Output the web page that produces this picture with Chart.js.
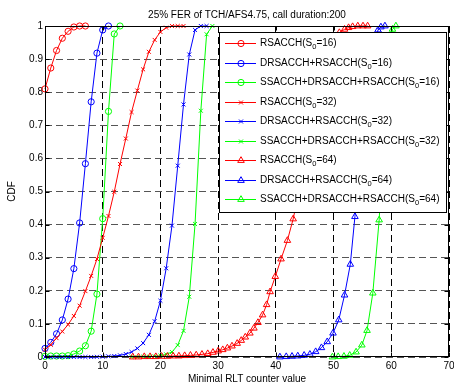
<!DOCTYPE html>
<html><head><meta charset="utf-8">
<script src="https://cdn.jsdelivr.net/npm/chart.js@4"></script>
<style>html,body{margin:0;padding:0;background:#fff;overflow:hidden}</style>
</head><body>
<canvas id="c" width="454" height="386"></canvas>
<script>
const titleText = '25% FER of TCH/AFS4.75, call duration:200';
const xAxisTitle = 'Minimal RLT counter value';
const yAxisTitle = 'CDF';
const xTickLabels = ['0','10','20','30','40','50','60','70'];
const yTickLabels = ['0','0.1','0.2','0.3','0.4','0.5','0.6','0.7','0.8','0.9','1'];
const seriesNames = [
  'RSACCH(S\u2080=16)',
  'DRSACCH+RSACCH(S\u2080=16)',
  'SSACCH+DRSACCH+RSACCH(S\u2080=16)',
  'RSACCH(S\u2080=32)',
  'DRSACCH+RSACCH(S\u2080=32)',
  'SSACCH+DRSACCH+RSACCH(S\u2080=32)',
  'RSACCH(S\u2080=64)',
  'DRSACCH+RSACCH(S\u2080=64)',
  'SSACCH+DRSACCH+RSACCH(S\u2080=64)'
];
const seriesColors = ['#ff0000','#0000ff','#00ff00','#ff0000','#0000ff','#00ff00','#ff0000','#0000ff','#00ff00'];
const seriesMarkers = ['circle','circle','circle','crossRot','crossRot','crossRot','triangle','triangle','triangle'];

// S0 = 16
const x_rs16 = [0,1,2,3,4,5,6,7];
const y_rs16 = [0.81,0.873,0.926,0.963,0.984,0.997,1.0,1.0];
const x_dr16 = [0,1,2,3,4,5,6,7,8,9,10,11];
const y_dr16 = [0.026,0.044,0.07,0.112,0.175,0.267,0.405,0.584,0.771,0.918,0.988,1.0];
const x_ss16 = [0,1,2,3,4,5,6,7,8,9,10,11,12,13];
const y_ss16 = [0.002,0.003,0.003,0.003,0.004,0.009,0.018,0.034,0.078,0.19,0.418,0.742,0.976,1.0];
// S0 = 32
const x_rs32 = [0,1,2,3,4,5,6,7,8,9,10,11,12,13,14,15,16,17,18,19,20,21,22,23,24];
const y_rs32 = [0.022,0.037,0.057,0.077,0.098,0.124,0.155,0.199,0.245,0.296,0.36,0.426,0.499,0.583,0.66,0.74,0.805,0.869,0.922,0.958,0.982,0.995,1.0,1.0,1.0];
const x_dr32 = [0,1,2,3,4,5,6,7,8,9,10,11,12,13,14,15,16,17,18,19,20,21,22,23,24,25,26,27,28];
const y_dr32 = [0,0,0,0,0,0,0,0,0,0.0005,0.001,0.002,0.003,0.005,0.009,0.015,0.026,0.042,0.067,0.108,0.17,0.268,0.397,0.578,0.763,0.914,0.988,1.0,1.0];
const x_ss32 = [15,16,17,18,19,20,21,22,23,24,25,26,27,28,29];
const y_ss32 = [0,0,0.001,0.001,0.002,0.004,0.008,0.015,0.036,0.079,0.182,0.402,0.744,0.975,1.0];
// S0 = 64
const x_rs64 = [15.2,16.2,17.2,18.2,19.2,20.2,21.2,22.2,23.2,24.2,25.2,26.2,27.2,28.2,29.1,30,30.8,31.6,32.4,33.3,34,34.7,35.5,36.2,36.9,37.7,38.4,39,39.9,40.9,42,43,44,45,46,47,48,49,50,51,51.9,52.6,53.3,54.2,55.1,55.9];
const y_rs64 = [0,0,0.001,0.001,0.001,0.002,0.002,0.003,0.003,0.004,0.005,0.006,0.008,0.01,0.014,0.018,0.022,0.027,0.033,0.041,0.05,0.06,0.072,0.087,0.104,0.127,0.158,0.197,0.243,0.296,0.352,0.417,0.5,0.6,0.7,0.78,0.86,0.92,0.96,0.98,0.99,0.995,0.998,1.0,1.0,1.0];
const x_dr64 = [40.7,41.8,42.8,43.8,44.9,45.9,46.9,47.9,48.9,49.9,50.9,51.9,52.9,53.7,54.5,55.4,56.3,57.2,57.7,58.2,58.9];
const y_dr64 = [0,0.001,0.002,0.003,0.005,0.008,0.016,0.028,0.046,0.072,0.112,0.187,0.28,0.424,0.6,0.76,0.88,0.95,0.988,0.997,1.0];
const x_ss64 = [49.8,50.8,51.8,52.8,53.9,54.9,55.8,56.8,57.9,58.6,59.3,59.8,60.2,60.8];
const y_ss64 = [0,0.001,0.002,0.005,0.015,0.036,0.08,0.193,0.414,0.65,0.85,0.95,0.99,1.0];

const seriesX = [x_rs16,x_dr16,x_ss16,x_rs32,x_dr32,x_ss32,x_rs64,x_dr64,x_ss64];
const seriesY = [y_rs16,y_dr16,y_ss16,y_rs32,y_dr32,y_ss32,y_rs64,y_dr64,y_ss64];

const FONT = "'Liberation Sans', Arial, Helvetica, sans-serif";
const markerRadius = {circle: 3.1, crossRot: 2.8, triangle: 3.8};

const datasets = seriesNames.map((name, i) => ({
  label: name,
  data: seriesX[i].map((xv, k) => ({x: xv, y: seriesY[i][k]})),
  borderColor: seriesColors[i],
  backgroundColor: 'rgba(0,0,0,0)',
  pointBorderColor: seriesColors[i],
  pointBackgroundColor: 'rgba(0,0,0,0)',
  pointStyle: seriesMarkers[i],
  pointRadius: markerRadius[seriesMarkers[i]],
  pointBorderWidth: 1,
  borderWidth: 1,
  tension: 0,
  fill: false,
  clip: false,
  order: -i
}));

const framePlugin = {
  id: 'frameLegend',
  afterDatasetsDraw(chart) {
    const {ctx, chartArea: a, scales: {x, y}} = chart;
    ctx.save();
    ctx.strokeStyle = '#000';
    ctx.lineWidth = 1;
    ctx.setLineDash([]);
    const L = Math.round(a.left) + 0.5, R = Math.round(a.right) - 0.5;
    const T = Math.round(a.top) + 0.5, B = Math.round(a.bottom) - 0.5;
    ctx.strokeRect(L, T, R - L, B - T);
    const tl = 4;
    ctx.beginPath();
    x.ticks.forEach(t => {
      const px = Math.round(x.getPixelForValue(t.value)) + 0.5;
      ctx.moveTo(px, B); ctx.lineTo(px, B - tl);
      ctx.moveTo(px, T); ctx.lineTo(px, T + tl);
    });
    y.ticks.forEach(t => {
      const py = Math.round(y.getPixelForValue(t.value)) + 0.5;
      ctx.moveTo(L, py); ctx.lineTo(L + tl, py);
      ctx.moveTo(R, py); ctx.lineTo(R - tl, py);
    });
    ctx.stroke();

    // legend
    const fs = 10, subFs = 7.5;
    const mainFont = fs + 'px ' + FONT, subFont = subFs + 'px ' + FONT;
    function measure(label) {
      const parts = label.split('\u2080');
      ctx.font = mainFont;
      let w = ctx.measureText(parts[0]).width;
      if (parts.length > 1) {
        ctx.font = subFont; w += ctx.measureText('0').width;
        ctx.font = mainFont; w += ctx.measureText(parts[1]).width;
      }
      return w;
    }
    let maxW = 0;
    seriesNames.forEach(n => { maxW = Math.max(maxW, measure(n)); });
    const boxW = Math.round(41 + maxW + 7);
    const right = Math.round(a.right) - 3;
    const left = right - boxW;
    const top = Math.round(a.top) + 6;
    const rowH = 19.5;
    const boxH = 180;
    ctx.fillStyle = '#fff';
    ctx.fillRect(left, top, boxW, boxH);
    ctx.strokeStyle = '#000';
    ctx.lineWidth = 1;
    ctx.strokeRect(left + 0.5, top + 0.5, boxW, boxH);
    seriesNames.forEach((n, i) => {
      const cy = Math.round(top + 11.3 + i * rowH) + 0.5;
      ctx.strokeStyle = seriesColors[i];
      ctx.lineWidth = 1;
      ctx.beginPath();
      ctx.moveTo(left + 6, cy); ctx.lineTo(left + 37, cy);
      ctx.stroke();
      ctx.fillStyle = 'rgba(0,0,0,0)';
      Chart.helpers.drawPoint(ctx, {pointStyle: seriesMarkers[i], radius: markerRadius[seriesMarkers[i]], rotation: 0, borderWidth: 1}, left + 22, cy);
      const parts = n.split('\u2080');
      let tx = left + 41;
      ctx.fillStyle = '#000';
      ctx.textBaseline = 'middle';
      ctx.textAlign = 'left';
      ctx.font = mainFont;
      ctx.fillText(parts[0], tx, cy);
      tx += ctx.measureText(parts[0]).width;
      if (parts.length > 1) {
        ctx.font = subFont;
        ctx.fillText('0', tx, cy + 3.5);
        tx += ctx.measureText('0').width;
        ctx.font = mainFont;
        ctx.fillText(parts[1], tx, cy);
      }
    });
    ctx.restore();
  }
};

new Chart(document.getElementById('c'), {
  type: 'line',
  data: {datasets},
  options: {
    responsive: false,
    animation: false,
    devicePixelRatio: 1,
    layout: {padding: {left: 0, right: 3, top: 0, bottom: 0}},
    plugins: {
      legend: {display: false},
      tooltip: {enabled: false},
      title: {
        display: true, text: titleText, color: '#000', fullSize: false,
        font: {family: FONT, size: 10, weight: 'normal'},
        padding: {top: 9, bottom: 5}
      }
    },
    scales: {
      x: {
        type: 'linear', min: 0, max: 70,
        ticks: {
          stepSize: 10, autoSkip: false, maxRotation: 0, minRotation: 0,
          color: '#000', font: {family: FONT, size: 10}, padding: 3,
          callback: (v, i) => xTickLabels[i]
        },
        grid: {color: '#000', lineWidth: 1, drawTicks: false},
        border: {display: false, dash: [7, 4]},
        title: {display: true, text: xAxisTitle, color: '#000', font: {family: FONT, size: 10}, padding: {top: 0, bottom: 1}},
        afterFit: s => { s.height = 29; s.paddingLeft = 0; s.paddingRight = 0; }
      },
      y: {
        type: 'linear', min: 0, max: 1,
        ticks: {
          stepSize: 0.1, autoSkip: false, color: '#000', font: {family: FONT, size: 10}, padding: 2,
          callback: (v, i) => yTickLabels[i]
        },
        grid: {color: '#555', lineWidth: 1, drawTicks: false},
        border: {display: false, dash: [7, 4]},
        title: {display: true, text: yAxisTitle, color: '#000', font: {family: FONT, size: 10}, padding: {top: 6, bottom: 0}},
        afterFit: s => { s.width = 45; s.paddingTop = 0; s.paddingBottom = 0; }
      }
    }
  },
  plugins: [framePlugin]
});
</script>
</body></html>
